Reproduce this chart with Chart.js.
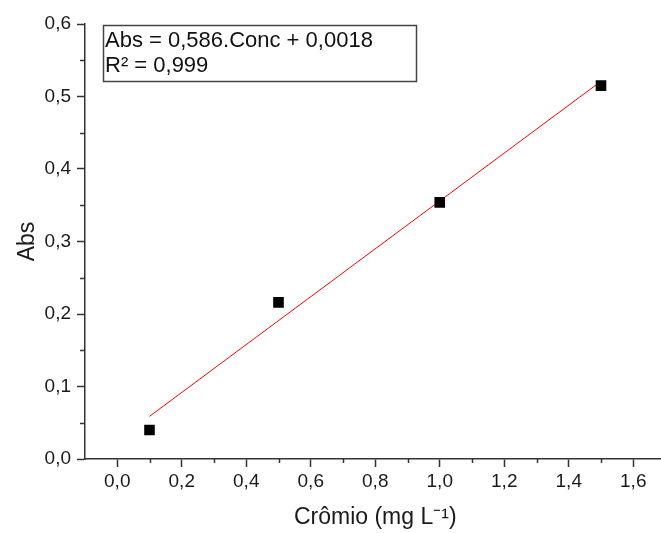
<!DOCTYPE html>
<html>
<head>
<meta charset="utf-8">
<script src="https://cdn.jsdelivr.net/npm/chart.js@4"></script>
<style>
  html, body { margin: 0; padding: 0; background: #fff; overflow: hidden; }
  #wrap { width: 673px; height: 533px; }
</style>
</head>
<body>
<div id="wrap"><canvas id="chart" width="673" height="533"></canvas></div>
<script>
// measured points (Crômio mg/L vs Abs)
const concX = [0.1, 0.5, 1.0, 1.5];
const absY = [0.040, 0.216, 0.354, 0.515];
// fitted line end points as drawn in the figure
const fitX = [0.1, 1.5];
const fitY = [0.0588, 0.521];
// axis ticks
const xTicks = [0.0, 0.2, 0.4, 0.6, 0.8, 1.0, 1.2, 1.4, 1.6];
const yTicks = [0.0, 0.1, 0.2, 0.3, 0.4, 0.5, 0.6];
const eqLines = ['Abs = 0,586.Conc + 0,0018', 'R\u00B2 = 0,999'];

const ink = '#1a1a1a';
const axisCol = '#333';
const fmt = v => v.toFixed(1).replace('.', ',');

// minor ticks halfway between majors + the equation box
const extras = {
  id: 'extras',
  afterDraw(chart) {
    const ctx = chart.ctx;
    const xs = chart.scales.x, ys = chart.scales.y;
    ctx.save();
    ctx.strokeStyle = axisCol;
    ctx.lineWidth = 1.5;
    for (let i = 0; i < xTicks.length; i++) {
      const v = xTicks[i] + 0.1;
      if (v > xs.max) continue;
      const px = Math.round(xs.getPixelForValue(v)) + 0.5;
      ctx.beginPath(); ctx.moveTo(px, xs.top); ctx.lineTo(px, xs.top + 4); ctx.stroke();
    }
    for (let i = 0; i < yTicks.length - 1; i++) {
      const py = Math.round(ys.getPixelForValue(yTicks[i] + 0.05)) + 0.5;
      ctx.beginPath(); ctx.moveTo(ys.right, py); ctx.lineTo(ys.right - 5, py); ctx.stroke();
    }
    // equation box
    const a = chart.chartArea;
    const bx = a.left + 18, by = a.top + 1;
    ctx.lineWidth = 1.5;
    ctx.strokeStyle = '#444';
    ctx.strokeRect(bx + 0.5, by + 0.5, 313, 56);
    ctx.fillStyle = '#111';
    ctx.font = '22px "Liberation Sans", Arial, sans-serif';
    ctx.textBaseline = 'alphabetic';
    ctx.fillText(eqLines[0], bx + 2, by + 22);
    ctx.fillText(eqLines[1], bx + 2, by + 47);
    ctx.restore();
  }
};

new Chart(document.getElementById('chart'), {
  type: 'scatter',
  data: {
    datasets: [
      {
        label: 'Abs',
        data: concX.map((x, i) => ({ x: x, y: absY[i] })),
        pointStyle: 'rect',
        pointRadius: 7.5,
        backgroundColor: '#000',
        borderColor: '#000',
        borderWidth: 0,
        order: 0
      },
      {
        label: 'Ajuste',
        type: 'line',
        data: fitX.map((x, i) => ({ x: x, y: fitY[i] })),
        borderColor: '#ff0000',
        borderWidth: 1,
        pointRadius: 0,
        fill: false,
        order: 1
      }
    ]
  },
  options: {
    responsive: false,
    animation: false,
    layout: { padding: { top: 24, left: 0, right: 0, bottom: 0 } },
    plugins: { legend: { display: false }, tooltip: { enabled: false } },
    scales: {
      x: {
        type: 'linear',
        min: -0.1,
        max: 1.7,
        afterBuildTicks: s => { s.ticks = xTicks.map(v => ({ value: v })); },
        afterFit: s => { s.height = 74; },
        border: { color: axisCol, width: 1.5 },
        grid: { drawOnChartArea: false, drawTicks: true, tickLength: 8, tickColor: axisCol, tickWidth: 1.5 },
        ticks: {
          padding: 3,
          color: ink,
          font: { family: '"Liberation Sans", Arial, sans-serif', size: 19 },
          callback: v => fmt(v)
        },
        title: {
          display: true,
          text: 'Crômio (mg L\u207B\u00B9)',
          color: ink,
          font: { family: '"Liberation Sans", Arial, sans-serif', size: 23 },
          padding: { top: 0, bottom: 2 }
        }
      },
      y: {
        type: 'linear',
        min: 0,
        max: 0.6,
        afterBuildTicks: s => { s.ticks = yTicks.map(v => ({ value: v })); },
        afterFit: s => { s.width = 85; },
        border: { color: axisCol, width: 1.5 },
        grid: { drawOnChartArea: false, drawTicks: true, tickLength: 8, tickColor: axisCol, tickWidth: 1.5 },
        ticks: {
          padding: 6,
          color: ink,
          font: { family: '"Liberation Sans", Arial, sans-serif', size: 19 },
          callback: v => fmt(v)
        },
        title: {
          display: true,
          text: 'Abs',
          color: ink,
          font: { family: '"Liberation Sans", Arial, sans-serif', size: 23 },
          padding: { top: 14, bottom: 0 }
        }
      }
    }
  },
  plugins: [extras]
});
</script>
</body>
</html>
